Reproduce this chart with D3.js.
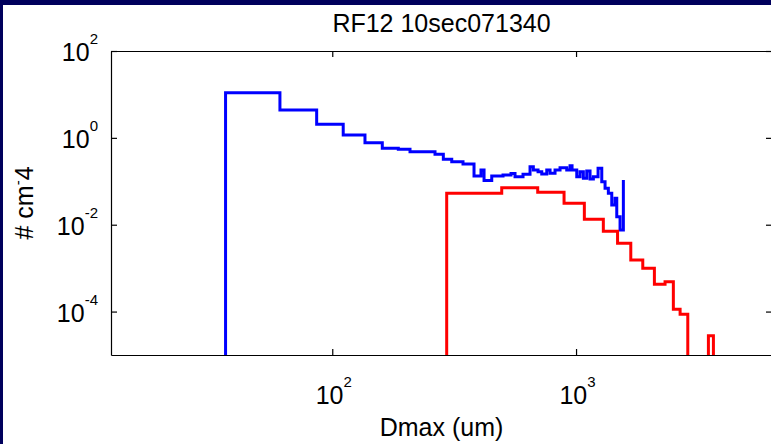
<!DOCTYPE html>
<html><head><meta charset="utf-8">
<script src="https://cdn.jsdelivr.net/npm/d3@7"></script>
<style>html,body{margin:0;padding:0;background:#00005c;overflow:hidden}svg{display:block}</style>
</head><body><svg id="c" width="771" height="444"></svg>
<script>
// ---- data ----
const title = "RF12 10sec071340";
const xLabel = "Dmax (um)";
const yLabelMain = "# cm";
const yLabelSup = "-";
const yLabelTail = "4";

// blue series: bin lower edges (um) and concentrations (stairs)
const blueD = [25, 36.5, 61.0, 86.3, 110.9, 136.2, 160.4, 186.6, 208.4, 263.9, 285.5, 309.1, 343.8, 381.5, 407.5, 419.4,
  451.0, 501.7, 541.0, 561.9, 606.0, 647.5, 668.0, 698.4, 723.3, 758.3, 782.3, 820.0, 859.7, 915.8, 944.9, 963.0,
  1006.7, 1038.5, 1071.5, 1106.3, 1141.3, 1177.6, 1231.0, 1275.0, 1315.2, 1356.8, 1401.2, 1445.4, 1468.9, 1515.3, 1563.5];
const blueN = [0, 10.96, 4.38, 2.052, 1.164, 0.774, 0.575, 0.545, 0.480, 0.418, 0.3208, 0.2825, 0.2500, 0.1324, 0.1820, 0.1042,
  0.1324, 0.1396, 0.1511, 0.1275, 0.1448, 0.2168, 0.1820, 0.1663, 0.1472, 0.1820, 0.1528, 0.1820, 0.2056, 0.1820, 0.2286, 0.1820,
  0.1275, 0.1663, 0.1172, 0.1725, 0.1129, 0.1275, 0.1991, 0.0978, 0.0690, 0.0529, 0.0285, 0.0406, 0.0153, 0.00756, 0.1071];

// red series
const redD = [250, 294.7, 495.6, 696.2, 892.9, 1081.6, 1294, 1480, 1677, 1878, 2096, 2318, 2507, 2672, 2873, 3491, 3660];
const redN = [0, 0.0529, 0.0712, 0.0558, 0.0311, 0.01333, 0.00706, 0.003734, 0.00154, 0.000992, 0.000425, 0.000488,
  0.0001129, 0.0000866, 0, 0.0000278, 0];

const xTicks = [100, 1000];
const yTicks = [1e2, 1e0, 1e-2, 1e-4];
const xDomain = [12.37, 6365];
const yDomain = [1e-5, 1e2];

// ---- drawing ----
const W = 771, H = 444;
const L = 111, R = 772, T = 51, B = 355;
const FONT = "'Liberation Sans', Arial, Helvetica, sans-serif";

const svg = d3.select("#c").attr("font-family", FONT);
svg.append("rect").attr("width", W).attr("height", H).attr("fill", "#00005c");
svg.append("rect").attr("x", 3).attr("y", 5).attr("width", W - 3).attr("height", H - 5).attr("fill", "#ffffff");

const x = d3.scaleLog().domain(xDomain).range([L, R]);
const y = d3.scaleLog().domain(yDomain).range([B, T]);

svg.append("clipPath").attr("id", "plotclip")
  .append("rect").attr("x", L).attr("y", T).attr("width", R - L).attr("height", B - T);

const line = d3.line()
  .x(d => x(d[0]))
  .y(d => d[1] > 0 ? y(d[1]) : B + 40)
  .curve(d3.curveStepAfter);

const plot = svg.append("g").attr("clip-path", "url(#plotclip)");
plot.append("path").datum(d3.zip(blueD, blueN)).attr("d", line)
  .attr("fill", "none").attr("stroke", "#0000ff").attr("stroke-width", 3).attr("stroke-linejoin", "miter");
plot.append("path").datum(d3.zip(redD, redN)).attr("d", line)
  .attr("fill", "none").attr("stroke", "#ff0000").attr("stroke-width", 3).attr("stroke-linejoin", "miter");

function styleAxis(g) {
  g.select(".domain").attr("stroke", "#000").attr("stroke-width", 1.2);
  g.selectAll(".tick line").attr("stroke", "#000").attr("stroke-width", 1.2);
}

const gB = svg.append("g").attr("transform", `translate(0,${B})`)
  .call(d3.axisBottom(x).tickValues(xTicks).tickSizeInner(-6).tickSizeOuter(0).tickFormat(""));
const gT = svg.append("g").attr("transform", `translate(0,${T})`)
  .call(d3.axisTop(x).tickValues(xTicks).tickSizeInner(-6).tickSizeOuter(0).tickFormat(""));
const gL = svg.append("g").attr("transform", `translate(${L},0)`)
  .call(d3.axisLeft(y).tickValues(yTicks).tickSizeInner(-6).tickSizeOuter(0).tickFormat(""));
const gR = svg.append("g").attr("transform", `translate(${R},0)`)
  .call(d3.axisRight(y).tickValues(yTicks).tickSizeInner(-6).tickSizeOuter(0).tickFormat(""));
[gB, gT, gL, gR].forEach(styleAxis);

function expText(t, v) {
  const e = Math.round(Math.log10(v));
  t.append("tspan").text("10");
  t.append("tspan").attr("dy", -17).attr("font-size", 15).text(String(e));
}

gB.selectAll(".tick").each(function(d) {
  const t = d3.select(this).append("text")
    .attr("x", 1).attr("y", 49).attr("text-anchor", "middle")
    .attr("fill", "#000").attr("font-size", 25).attr("font-family", FONT);
  expText(t, d);
});
gL.selectAll(".tick").each(function(d) {
  const t = d3.select(this).append("text")
    .attr("x", -13).attr("y", 9.5).attr("text-anchor", "end")
    .attr("fill", "#000").attr("font-size", 25).attr("font-family", FONT);
  expText(t, d);
});

svg.append("text").attr("x", (L + R) / 2).attr("y", 32).attr("text-anchor", "middle")
  .attr("font-size", 25).attr("fill", "#000").text(title);
svg.append("text").attr("x", (L + R) / 2).attr("y", 436).attr("text-anchor", "middle")
  .attr("font-size", 25).attr("fill", "#000").text(xLabel);

const yl = svg.append("text").attr("transform", `translate(33,${(T + B) / 2}) rotate(-90)`)
  .attr("text-anchor", "middle").attr("font-size", 25).attr("fill", "#000");
yl.append("tspan").text(yLabelMain);
yl.append("tspan").attr("dy", -10).attr("font-size", 15).text(yLabelSup);
yl.append("tspan").attr("dy", 10).text(yLabelTail);
</script></body></html>
